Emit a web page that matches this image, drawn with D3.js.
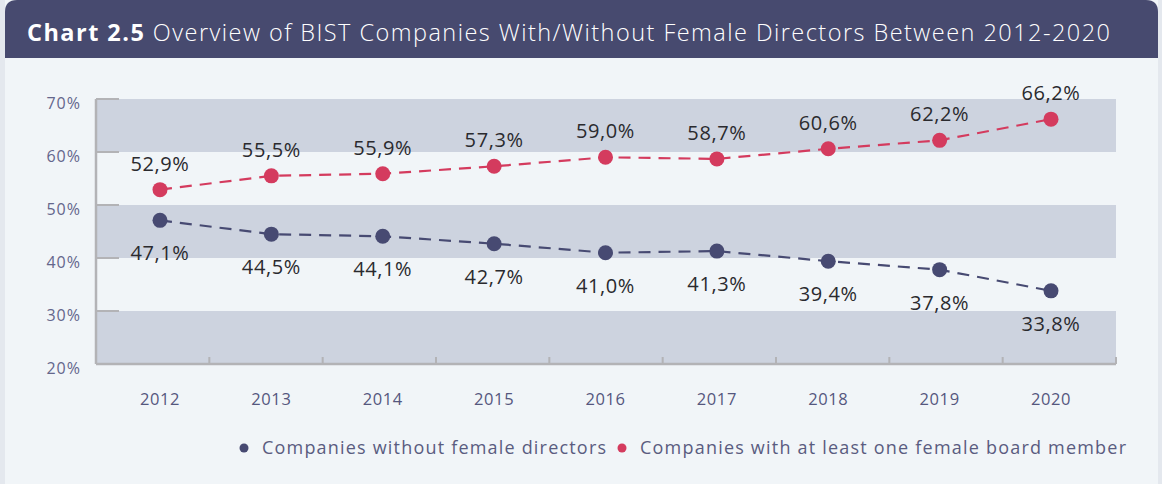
<!DOCTYPE html>
<html>
<head>
<meta charset="utf-8">
<script src="https://cdn.jsdelivr.net/npm/d3@7"></script>
<style>
  html, body { margin: 0; padding: 0; background: #e4e8ee; }
  svg { display: block; font-family: "Open Sans", "Noto Sans", sans-serif; }
</style>
</head>
<body>
<div id="chart"></div>
<script>
// data
const years = ["2012", "2013", "2014", "2015", "2016", "2017", "2018", "2019", "2020"];
const withFemale = [52.9, 55.5, 55.9, 57.3, 59.0, 58.7, 60.6, 62.2, 66.2];
const withoutFemale = [47.1, 44.5, 44.1, 42.7, 41.0, 41.3, 39.4, 37.8, 33.8];
const yTicks = [20, 30, 40, 50, 60, 70];
const seriesNames = ["Companies without female directors", "Companies with at least one female board member"];

const W = 1162, H = 484;
const navy = "#474a72", red = "#d43b5e", band = "#cdd3df", bg = "#f1f5f8";

const svg = d3.select("#chart").append("svg")
    .attr("width", W).attr("height", H);

// card + header
svg.append("rect").attr("x", 0).attr("y", 0).attr("width", W).attr("height", H).attr("fill", "#e4e8ee");
svg.append("rect").attr("x", 5).attr("y", 0).attr("width", 1153).attr("height", H).attr("fill", bg);
svg.append("path")
    .attr("d", "M5,58 L5,12 Q5,0 17,0 L1146,0 Q1158,0 1158,12 L1158,58 Z")
    .attr("fill", "#474a6f");

const title = svg.append("text")
    .attr("x", 27).attr("y", 41)
    .attr("fill", "#ffffff")
    .attr("font-size", 23.5)
    .attr("textLength", 1083).attr("lengthAdjust", "spacing");
title.append("tspan").attr("font-weight", 700).text("Chart 2.5");
title.append("tspan").attr("font-weight", 300).text(" Overview of BIST Companies With/Without Female Directors Between 2012-2020");

// scales
const y = d3.scaleLinear().domain([20, 70]).range([364, 99]);
const xBand = d3.scaleBand().domain(years).range([96, 1116]);
const x = d3.scalePoint().domain(years).range([160, 1051]);

// alternating bands
const bands = [[60, 70], [40, 50], [20, 30]];
svg.append("g").selectAll("rect").data(bands).join("rect")
    .attr("x", 96).attr("width", 1116 - 96)
    .attr("y", d => y(d[1])).attr("height", d => y(d[0]) - y(d[1]))
    .attr("fill", band);

// y axis
const axisCol = "#b3b3b6";
svg.append("line").attr("x1", 96).attr("x2", 96).attr("y1", y(70)).attr("y2", y(20))
    .attr("stroke", axisCol).attr("stroke-width", 2.5);
svg.append("g").selectAll("line").data(yTicks).join("line")
    .attr("x1", 96).attr("x2", 119)
    .attr("y1", d => y(d)).attr("y2", d => y(d))
    .attr("stroke", axisCol).attr("stroke-width", 2);
svg.append("g").selectAll("text").data(yTicks).join("text")
    .attr("x", 81).attr("y", d => y(d) + 10)
    .attr("text-anchor", "end")
    .attr("font-size", 16)
    .attr("letter-spacing", 1)
    .attr("fill", "#64668c")
    .text(d => d + "%");

// x axis
svg.append("line").attr("x1", 96).attr("x2", 1116).attr("y1", y(20)).attr("y2", y(20))
    .attr("stroke", axisCol).attr("stroke-width", 2.5);
svg.append("g").selectAll("line").data(years.slice(1).concat(["end"])).join("line")
    .attr("x1", d => d === "end" ? 1116 : xBand(d))
    .attr("x2", d => d === "end" ? 1116 : xBand(d))
    .attr("y1", y(20)).attr("y2", y(20) - 7)
    .attr("stroke", axisCol).attr("stroke-width", 2);
svg.append("g").selectAll("text").data(years).join("text")
    .attr("x", d => x(d)).attr("y", 405)
    .attr("text-anchor", "middle")
    .attr("font-size", 16.5)
    .attr("letter-spacing", 0.6)
    .attr("fill", "#55577e")
    .text(d => d);

// series
const line = d3.line().x(d => x(d.year)).y(d => y(d.v));
const series = [
    { vals: withoutFemale, color: navy, dy: 40 },
    { vals: withFemale, color: red, dy: -19 }
];
series.forEach(s => {
    const pts = years.map((yr, i) => ({ year: yr, v: s.vals[i] }));
    svg.append("path").datum(pts)
        .attr("d", line)
        .attr("fill", "none")
        .attr("stroke", s.color)
        .attr("stroke-width", 2.2)
        .attr("stroke-dasharray", "12,8");
    svg.append("g").selectAll("circle").data(pts).join("circle")
        .attr("cx", d => x(d.year)).attr("cy", d => y(d.v))
        .attr("r", 7.5).attr("fill", s.color);
    svg.append("g").selectAll("text").data(pts).join("text")
        .attr("x", d => x(d.year)).attr("y", d => y(d.v) + s.dy)
        .attr("text-anchor", "middle")
        .attr("font-size", 20)
        .attr("letter-spacing", 0.6)
        .attr("fill", "#2a2a2e")
        .text(d => d.v.toFixed(1).replace(".", ",") + "%");
});

// legend
const legend = [
    { name: seriesNames[0], color: navy, dot: 244, tx: 262, len: 344 },
    { name: seriesNames[1], color: red, dot: 622, tx: 640, len: 486 }
];
legend.forEach(l => {
    svg.append("circle").attr("cx", l.dot).attr("cy", 448).attr("r", 4.5).attr("fill", l.color);
    svg.append("text").attr("x", l.tx).attr("y", 454)
        .attr("font-size", 18)
        .attr("fill", "#5a5c80")
        .attr("textLength", l.len).attr("lengthAdjust", "spacing")
        .text(l.name);
});
</script>
</body>
</html>
